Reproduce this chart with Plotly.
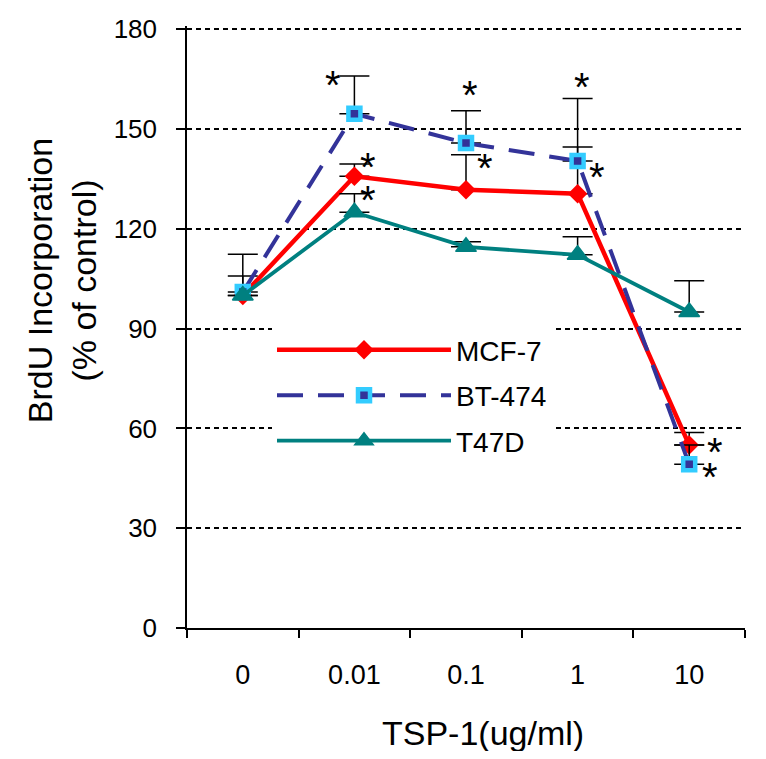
import plotly.graph_objects as go

categories = ["0", "0.01", "0.1", "1", "10"]

mcf7 = [100, 135.8, 131.8, 130.6, 55]
mcf7_err = [5.8, 3.7, 10.5, 14.0, 3.8]

bt474 = [101, 154.6, 145.8, 140.4, 49.2]
bt474_err = [11.4, 11.4, 9.7, 18.8, 5.8]

t47d = [100, 125, 114.6, 112.2, 95]
t47d_err = [0.0, 5.6, 1.5, 5.4, 9.4]

# significance markers (category index position, value)
star_x = [0.81, 1.12, 1.12, 2.04, 2.17, 3.04, 3.175, 4.23, 4.19]
star_y = [164.7, 140.1, 130.1, 161.7, 139.8, 164.1, 137.1, 54.4, 46.9]

y_ticks = [0, 30, 60, 90, 120, 150, 180]
Y_TOP = 181

FONT = "Arial, Liberation Sans, sans-serif"

# page body has an 8px margin; plot area: x 187-745, y=0 at 628, y=180 at 29 (window px)
OFF = 8
PX_PER_UNIT = 599 / 180
PW = 558
PH = PX_PER_UNIT * Y_TOP
PL = 187 - OFF
PT = 628 - PH - OFF
FW, FH = 750, 743

def px_to_paper_y(py):
    return (628 - py) / PH

fig = go.Figure()

fig.add_trace(go.Scatter(
    x=categories, y=mcf7, name="MCF-7", mode="lines+markers",
    line=dict(color="#FF0000", width=4.5),
    marker=dict(symbol="diamond", size=15, color="#FF0000"),
    error_y=dict(type="data", array=mcf7_err, symmetric=False, arrayminus=[0]*5,
                 color="black", thickness=1.5, width=15),
))
fig.add_trace(go.Scatter(
    x=categories, y=bt474, name="BT-474", mode="lines+markers",
    line=dict(color="#333399", width=4, dash="26px,15px"),
    marker=dict(symbol="square", size=12, color="#333399",
                line=dict(color="#33CCFF", width=4.5)),
    error_y=dict(type="data", array=bt474_err, symmetric=False, arrayminus=[0]*5,
                 color="black", thickness=1.5, width=15),
))
fig.add_trace(go.Scatter(
    x=categories, y=t47d, name="T47D", mode="lines+markers",
    line=dict(color="#008080", width=3.8),
    marker=dict(symbol="triangle-up", size=18, color="#008080",
                line=dict(color="#008080", width=1.5)),
    error_y=dict(type="data", array=t47d_err, symmetric=False, arrayminus=[0]*5,
                 color="black", thickness=1.5, width=15),
))

for sx, sy in zip(star_x, star_y):
    fig.add_annotation(x=sx, y=sy, xref="x", yref="y", text="*", showarrow=False,
                       font=dict(family=FONT, size=40, color="black"),
                       xanchor="center", yanchor="middle", yshift=-5)

fig.add_annotation(xref="paper", yref="paper", x=(62 - 187) / PW, y=px_to_paper_y(281),
                   text="BrdU Incorporation<br>(% of control)", textangle=-90,
                   showarrow=False, font=dict(family=FONT, size=34, color="black"),
                   xanchor="center", yanchor="middle")
fig.add_annotation(xref="paper", yref="paper", x=(483 - 187) / PW, y=px_to_paper_y(733),
                   text="TSP-1(ug/ml)", showarrow=False,
                   font=dict(family=FONT, size=34, color="black"),
                   xanchor="center", yanchor="middle")

fig.update_layout(
    width=FW, height=FH,
    margin=dict(l=PL, r=FW - PL - PW, t=PT, b=FH - PT - PH, autoexpand=False),
    paper_bgcolor="white", plot_bgcolor="white",
    font=dict(family=FONT, color="black"),
    showlegend=True,
    legend=dict(x=(272 - 187) / PW, y=px_to_paper_y(325), xanchor="left", yanchor="top",
                bgcolor="white", borderwidth=0, itemwidth=174,
                font=dict(family=FONT, size=28, color="black"),
                tracegroupgap=6),
)
fig.update_xaxes(
    type="category", categoryorder="array", categoryarray=categories,
    range=[-0.5, 4.5], tickson="boundaries",
    showline=True, linecolor="black", linewidth=1.5,
    ticks="outside", ticklen=8, tickwidth=1.5, tickcolor="black",
    tickfont=dict(family=FONT, size=27, color="black"),
    ticklabelstandoff=22, showgrid=False, zeroline=False,
)
fig.update_yaxes(
    range=[0, Y_TOP], tickvals=y_ticks,
    showline=True, linecolor="black", linewidth=1.5,
    ticks="outside", ticklen=9, tickwidth=1.5, tickcolor="black",
    tickfont=dict(family=FONT, size=26, color="black"),
    ticklabelstandoff=14,
    showgrid=True, gridcolor="black", gridwidth=2, griddash="5px,4px",
    zeroline=False,
)

for i, tr in enumerate(fig.data):
    tr.legendgroup = f"g{i}"

fig.write_html("out.html")
